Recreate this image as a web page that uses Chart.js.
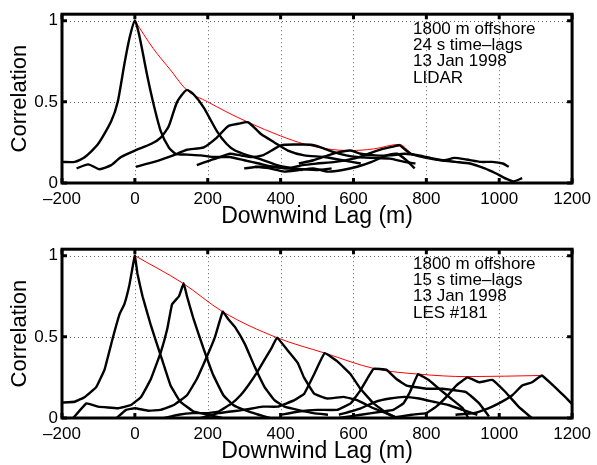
<!DOCTYPE html>
<html>
<head>
<meta charset="utf-8">
<script src="https://cdn.jsdelivr.net/npm/chart.js@4.4.1/dist/chart.umd.min.js"></script>
<style>
  html, body { margin: 0; padding: 0; background: #fff; }
  .panel { position: absolute; left: 0; width: 597px; height: 230px; }
</style>
</head>
<body>
<div class="panel" style="top:0"><canvas id="lidarChart"></canvas></div>
<div class="panel" style="top:235px"><canvas id="lesChart"></canvas></div>
<script>
// axes
const xTicks = [-200, 0, 200, 400, 600, 800, 1000, 1200];
const xTickLabels = ['\u2013200', '0', '200', '400', '600', '800', '1000', '1200'];
const yTicks = [0, 0.5, 1];
const yTickLabels = ['0', '0.5', '1'];

// LIDAR, 24 s time-lags  [lag (m), correlation]
const lidar0 = [[-200,0.13],[-165,0.13],[-137,0.16],[-101,0.24],[-65,0.38],[-47,0.5],[-29,0.73],[-15,0.89],[0,1.0],[12,0.91],[35,0.65],[53,0.47],[71,0.32],[93,0.22],[112,0.18],[143,0.175],[180,0.17],[220,0.16],[260,0.16],[300,0.14],[340,0.12],[380,0.1],[420,0.09],[460,0.08]];
const lidar1 = [[-160,0.09],[-128,0.115],[-97,0.085],[-65,0.11],[-38,0.16],[0,0.2],[44,0.24],[71,0.28],[93,0.35],[116,0.5],[142,0.573],[161,0.547],[189,0.465],[225,0.32],[252,0.24],[275,0.2],[310,0.17],[340,0.15],[390,0.11],[440,0.09],[500,0.08],[540,0.09]];
const lidar2 = [[3,0.1],[53,0.13],[80,0.15],[116,0.18],[143,0.205],[189,0.22],[225,0.28],[256,0.35],[284,0.365],[311,0.374],[347,0.3],[383,0.25],[420,0.2],[465,0.17],[520,0.16],[570,0.14],[620,0.12]];
const lidar3 = [[170,0.11],[207,0.14],[234,0.16],[261,0.18],[290,0.17],[320,0.16],[350,0.17],[375,0.2],[401,0.232],[440,0.237],[483,0.236],[510,0.22],[546,0.19],[580,0.17],[610,0.16],[650,0.155],[700,0.15],[740,0.13],[770,0.12]];
const lidar4 = [[300,0.09],[340,0.1],[380,0.1],[420,0.09],[460,0.11],[500,0.12],[550,0.13],[600,0.15],[640,0.18],[680,0.21],[710,0.225],[727,0.232],[745,0.2],[760,0.178],[800,0.155],[840,0.14],[880,0.13],[920,0.12],[960,0.09],[990,0.06],[1020,0.025],[1040,0.01],[1063,0.03]];
const lidar5 = [[450,0.12],[490,0.14],[530,0.17],[560,0.19],[592,0.2],[620,0.18],[660,0.17],[700,0.17],[740,0.18],[780,0.17],[820,0.15],[850,0.14],[877,0.155],[910,0.145],[950,0.13],[981,0.13],[1010,0.12],[1026,0.1]];
const lidar6 = [[330,0.1],[370,0.09],[410,0.07],[450,0.08],[490,0.09],[530,0.07],[570,0.08],[610,0.1],[650,0.13],[690,0.17],[720,0.18],[745,0.14],[768,0.09]];
const lidarPeaks = [[0,1.0],[50,0.83],[100,0.69],[142,0.573],[200,0.5],[250,0.44],[311,0.374],[400,0.29],[465,0.24],[528,0.21],[592,0.2],[655,0.21],[726,0.238],[759,0.18]];
const lidarNotes = ['1800 m offshore', '24 s time\u2013lags', '13 Jan 1998', 'LIDAR'];

// LES #181, 15 s time-lags
const les0 = [[-200,0.095],[-165,0.1],[-137,0.13],[-106,0.19],[-83,0.3],[-61,0.49],[-42,0.64],[-29,0.7],[-15,0.82],[-7,0.92],[0,1.0],[7,0.89],[21,0.75],[44,0.57],[71,0.385],[98,0.2],[125,0.1],[161,0.04],[200,0.02],[240,0.0]];
const les1 = [[-169,0],[-133,0.09],[-101,0.07],[-47,0.06],[-11,0.08],[17,0.13],[44,0.24],[71,0.405],[89,0.55],[102,0.7],[121,0.75],[134,0.83],[143,0.75],[161,0.61],[189,0.425],[216,0.26],[243,0.14],[270,0.08],[300,0.05],[340,0.02],[370,0]];
const les2 = [[-50,0],[-24,0.05],[0,0.06],[36,0.045],[70,0.05],[107,0.08],[143,0.14],[170,0.24],[198,0.38],[220,0.5],[241,0.655],[256,0.61],[275,0.56],[302,0.455],[329,0.315],[356,0.19],[383,0.11],[411,0.07],[447,0.05],[490,0.03],[530,0.02]];
const les3 = [[80,0],[120,0.02],[160,0.03],[200,0.03],[230,0.04],[266,0.09],[290,0.14],[311,0.2],[335,0.28],[356,0.36],[375,0.43],[390,0.495],[420,0.415],[447,0.34],[464,0.25],[492,0.15],[528,0.12],[573,0.13],[610,0.11],[655,0.06],[690,0.03],[720,0]];
const les4 = [[180,0],[230,0.03],[300,0.05],[350,0.07],[392,0.07],[438,0.11],[465,0.15],[492,0.27],[521,0.4],[555,0.35],[592,0.27],[619,0.18],[655,0.09],[691,0.03],[720,0]];
const les5 = [[400,0.02],[450,0.04],[500,0.05],[555,0.05],[592,0.09],[619,0.17],[640,0.25],[655,0.303],[691,0.297],[718,0.24],[746,0.2],[800,0.18],[845,0.18],[909,0.16],[945,0.09],[972,0.01]];
const les6 = [[560,0],[620,0.02],[680,0.04],[709,0.05],[737,0.09],[755,0.16],[777,0.27],[809,0.23],[840,0.17],[873,0.11],[900,0.06],[915,0]];
const les7 = [[700,0],[760,0.02],[800,0.03],[827,0.07],[855,0.13],[882,0.2],[913,0.25],[945,0.22],[981,0.235],[1017,0.16],[1053,0.07],[1089,0]];
const les8 = [[880,0.02],[930,0.03],[970,0.06],[999,0.09],[1036,0.14],[1063,0.2],[1090,0.22],[1117,0.262],[1153,0.19],[1181,0.13],[1202,0.08]];
const les9 = [[560,0.02],[620,0.06],[660,0.1],[700,0.12],[740,0.13],[780,0.12],[820,0.1],[860,0.08],[900,0.05],[940,0.02]];
const lesPeaks = [[0,1.0],[132,0.83],[241,0.655],[390,0.495],[521,0.4],[660,0.303],[780,0.27],[913,0.255],[1117,0.262]];
const lesNotes = ['1800 m offshore', '15 s time\u2013lags', '13 Jan 1998', 'LES #181'];

const FONT = '"Liberation Sans", Arial, Helvetica, sans-serif';

// matlab-style box, inward ticks, dotted grid and text block
const matlabAxes = {
    id: 'matlabAxes',
    beforeDatasetsDraw(chart) {
        const { ctx, chartArea: a, scales: { x, y } } = chart;
        ctx.save();
        ctx.strokeStyle = '#666';
        ctx.lineWidth = 1;
        ctx.setLineDash([1, 3]);
        ctx.beginPath();
        xTicks.slice(1, -1).forEach(v => {
            const px = Math.round(x.getPixelForValue(v)) + 0.5;
            ctx.moveTo(px, a.top);
            ctx.lineTo(px, a.bottom);
        });
        yTicks.slice(1).forEach(v => {
            const py = Math.round(y.getPixelForValue(v)) + 0.5;
            ctx.moveTo(a.left, py);
            ctx.lineTo(a.right, py);
        });
        ctx.stroke();
        ctx.restore();
    },
    afterDatasetsDraw(chart) {
        const { ctx, chartArea: a, scales: { x, y } } = chart;
        const len = 5;
        ctx.save();
        ctx.strokeStyle = '#000';
        ctx.lineWidth = 3;
        ctx.beginPath();
        xTicks.forEach(v => {
            const px = x.getPixelForValue(v);
            ctx.moveTo(px, a.bottom); ctx.lineTo(px, a.bottom - len);
            ctx.moveTo(px, a.top); ctx.lineTo(px, a.top + len);
        });
        yTicks.forEach(v => {
            const py = y.getPixelForValue(v);
            ctx.moveTo(a.left, py); ctx.lineTo(a.left + len, py);
            ctx.moveTo(a.right, py); ctx.lineTo(a.right - len, py);
        });
        ctx.stroke();
        ctx.strokeRect(a.left, a.top, a.right - a.left, a.bottom - a.top);
        ctx.restore();
    },
    afterDraw(chart, args, opts) {
        const { ctx } = chart;
        ctx.save();
        ctx.fillStyle = '#000';
        ctx.font = '17px ' + FONT;
        ctx.textBaseline = 'alphabetic';
        (opts.notes || []).forEach((t, i) => ctx.fillText(t, 413, 34 + i * 16.2));
        ctx.restore();
    }
};

function toPoints(arr) {
    return arr.map(([x, y]) => ({ x, y }));
}

function makeChart(id, curves, peaks, notes, tension) {
    const datasets = curves.map(c => ({
        data: toPoints(c),
        borderColor: '#000',
        borderWidth: 2.4,
        pointRadius: 0,
        tension: tension,
        fill: false
    }));
    datasets.push({
        data: toPoints(peaks),
        borderColor: '#ff0000',
        borderWidth: 1,
        pointRadius: 0,
        cubicInterpolationMode: 'monotone',
        fill: false
    });

    return new Chart(document.getElementById(id), {
        type: 'line',
        data: { datasets },
        options: {
            responsive: true,
            maintainAspectRatio: false,
            animation: false,
            devicePixelRatio: 1,
            layout: { padding: { top: 13, right: 20, left: 0, bottom: 0 } },
            plugins: {
                legend: { display: false },
                tooltip: { enabled: false },
                matlabAxes: { notes }
            },
            scales: {
                x: {
                    type: 'linear',
                    min: -200,
                    max: 1200,
                    afterBuildTicks: s => { s.ticks = xTicks.map(v => ({ value: v })); },
                    afterFit: s => { s.height = 47; },
                    grid: { display: false, drawTicks: false },
                    border: { display: false },
                    ticks: {
                        color: '#000',
                        font: { family: FONT, size: 17 },
                        padding: 6,
                        maxRotation: 0,
                        autoSkip: false,
                        callback: v => xTickLabels[xTicks.indexOf(v)]
                    },
                    title: {
                        display: true,
                        text: 'Downwind Lag (m)',
                        color: '#000',
                        font: { family: FONT, size: 23, lineHeight: 1.2 },
                        padding: { top: 0, bottom: 0 }
                    }
                },
                y: {
                    type: 'linear',
                    min: 0,
                    max: 1.04,
                    afterBuildTicks: s => { s.ticks = yTicks.map(v => ({ value: v })); },
                    afterFit: s => { s.width = 62; },
                    grid: { display: false, drawTicks: false },
                    border: { display: false },
                    ticks: {
                        color: '#000',
                        font: { family: FONT, size: 17 },
                        padding: 4,
                        autoSkip: false,
                        callback: v => yTickLabels[yTicks.indexOf(v)]
                    },
                    title: {
                        display: true,
                        text: 'Correlation',
                        color: '#000',
                        font: { family: FONT, size: 22, lineHeight: 1.2 },
                        padding: { top: 7, bottom: 0 }
                    }
                }
            }
        },
        plugins: [matlabAxes]
    });
}

makeChart('lidarChart', [lidar0, lidar1, lidar2, lidar3, lidar4, lidar5, lidar6], lidarPeaks, lidarNotes, 0.2);
makeChart('lesChart', [les0, les1, les2, les3, les4, les5, les6, les7, les8, les9], lesPeaks, lesNotes, 0.08);
</script>
</body>
</html>
